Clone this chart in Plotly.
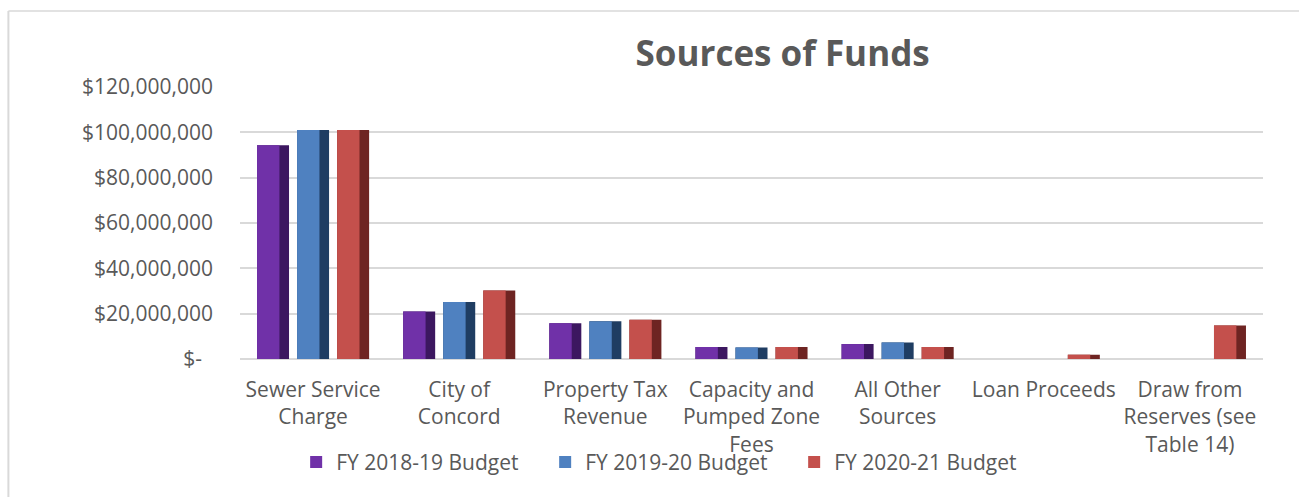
import plotly.graph_objects as go

# Funding sources (x-axis categories)
categories = [
    "Sewer Service<br>Charge",
    "City of<br>Concord",
    "Property Tax<br>Revenue",
    "Capacity and<br>Pumped Zone<br>Fees",
    "All Other<br>Sources",
    "Loan Proceeds",
    "Draw from<br>Reserves (see<br>Table 14)",
]

# Budget amounts in dollars
fy2018_19 = [94_300_000, 21_000_000, 15_800_000, 5_300_000, 6_600_000, 0, 0]
fy2019_20 = [101_000_000, 25_200_000, 16_600_000, 5_100_000, 7_300_000, 0, 0]
fy2020_21 = [101_000_000, 30_200_000, 17_300_000, 5_300_000, 5_300_000, 1_900_000, 14_800_000]

series_names = ["FY 2018-19 Budget", "FY 2019-20 Budget", "FY 2020-21 Budget"]

# y-axis ticks
y_tick_values = [0, 20_000_000, 40_000_000, 60_000_000, 80_000_000, 100_000_000, 120_000_000]
y_tick_labels = ["$-\u00a0\u00a0", "$20,000,000", "$40,000,000", "$60,000,000",
                 "$80,000,000", "$100,000,000", "$120,000,000"]

TEXT = "#595959"
GRID = "#d9d9d9"
FONT = "Open Sans"
FS = 21

# (face colour, shaded side colour) per series
palette = [
    ("#7031a8", "#3c1760"),
    ("#4f81c0", "#1f3d62"),
    ("#c4504c", "#6e2422"),
]

BAR_W = 0.219   # bar width in category units
SLOT = 0.274    # distance between neighbouring bars in a group
FACE_FRAC = 0.70

fig = go.Figure()
for i, (name, values) in enumerate(zip(series_names, [fy2018_19, fy2019_20, fy2020_21])):
    face, side = palette[i]
    left = (i - 1) * SLOT - BAR_W / 2
    # shaded body of the bar
    fig.add_trace(go.Bar(
        x=categories, y=values, name=name, legendgroup=name, showlegend=False,
        width=BAR_W, offset=left, marker=dict(color=side, line=dict(width=0)),
        hoverinfo="skip",
    ))
    # lit face of the bar
    fig.add_trace(go.Bar(
        x=categories, y=values, name=name, legendgroup=name,
        width=BAR_W * FACE_FRAC, offset=left, marker=dict(color=face, line=dict(width=0)),
    ))

fig.update_layout(
    width=1299, height=497,
    barmode="overlay",
    paper_bgcolor="white", plot_bgcolor="white",
    margin=dict(l=240, r=36, t=87, b=138, autoexpand=False),
    font=dict(family=FONT, color=TEXT, size=FS),
    title=dict(text="<b>Sources of Funds</b>", x=0.6025, xanchor="center",
               y=0.892, yanchor="middle", font=dict(family=FONT, size=35, color=TEXT)),
    showlegend=True,
    legend=dict(orientation="h", x=0.42, xanchor="center", y=-0.38, yanchor="middle",
                font=dict(family=FONT, size=FS, color=TEXT),
                entrywidth=204, bgcolor="rgba(0,0,0,0)"),
    shapes=[
        dict(type="line", xref="paper", yref="paper", x0=-0.2264, x1=-0.2264,
             y0=1.2796, y1=-0.6, line=dict(color=GRID, width=2), layer="below"),
        dict(type="line", xref="paper", yref="paper", x0=-0.2264, x1=1.2,
             y0=1.2796, y1=1.2796, line=dict(color=GRID, width=1.5), layer="below"),
    ],
)

fig.update_xaxes(
    type="category", tickangle=0, showgrid=False, showline=False, ticks="",
    tickfont=dict(family=FONT, size=FS, color=TEXT), ticklabelstandoff=16,
)
fig.update_yaxes(
    range=[0, 120_000_000], tickvals=y_tick_values, ticktext=y_tick_labels,
    showgrid=True, gridcolor=GRID, gridwidth=1.5,
    zeroline=True, zerolinecolor=GRID, zerolinewidth=1.5,
    showline=False, ticks="", ticklabelstandoff=26,
    tickfont=dict(family=FONT, size=FS, color=TEXT),
)

fig.write_html("out.html")
